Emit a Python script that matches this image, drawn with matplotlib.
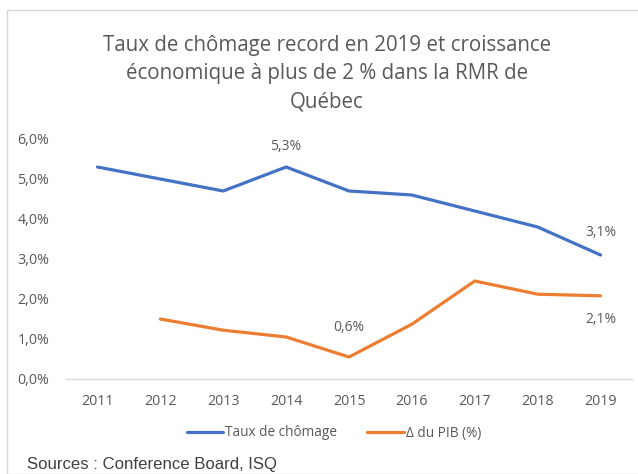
import matplotlib.pyplot as plt
from matplotlib.patches import Rectangle
from matplotlib.ticker import FuncFormatter

years = [2011, 2012, 2013, 2014, 2015, 2016, 2017, 2018, 2019]
chomage = [5.3, 5.0, 4.7, 5.3, 4.7, 4.6, 4.2, 3.8, 3.1]
pib_years = [2012, 2013, 2014, 2015, 2016, 2017, 2018, 2019]
pib = [1.5, 1.22, 1.05, 0.55, 1.37, 2.45, 2.12, 2.08]
y_ticks = [0, 1, 2, 3, 4, 5, 6]

title = "Taux de chômage record en 2019 et croissance\néconomique à plus de 2 % dans la RMR de\nQuébec"
source = "Sources : Conference Board, ISQ"

plt.rcParams['font.family'] = ['Open Sans', 'DejaVu Sans']
gray = '#595959'
blue = '#4472C4'
orange = '#ED7D31'

fig = plt.figure(figsize=(6.38, 4.74), dpi=100)
W, H = 638, 474

# chart frame
fig.patches.append(Rectangle((7 / W, 0), 1, 1 - 10 / H, transform=fig.transFigure,
                             fill=False, edgecolor='#d9d9d9', linewidth=1))

ax = fig.add_axes([66 / W, 1 - 379 / H, (632 - 66) / W, (379 - 139) / H])
ax.plot(years, chomage, color=blue, linewidth=2.3, solid_capstyle='round',
        label='Taux de chômage')
ax.plot(pib_years, pib, color=orange, linewidth=2.3, solid_capstyle='round',
        label='Δ du PIB (%)')

ax.set_xlim(2010.5, 2019.5)
ax.set_ylim(0, 6)
ax.set_yticks(y_ticks)
ax.yaxis.set_major_formatter(FuncFormatter(lambda v, p: f"{v:.1f}%".replace('.', ',')))
ax.set_xticks(years)
for s in ['top', 'right', 'left']:
    ax.spines[s].set_visible(False)
ax.spines['bottom'].set_color('#d9d9d9')
ax.spines['bottom'].set_linewidth(1)
ax.tick_params(length=0, labelsize=10.3, labelcolor=gray)
ax.tick_params(axis='x', pad=11)
ax.tick_params(axis='y', pad=12)

# data labels
def lab(x, y, txt, dy):
    ax.annotate(txt, (x, y), xytext=(0, dy), textcoords='offset points',
                ha='center', va='center', fontsize=10, color=gray)

lab(2014, chomage[3], "5,3%", 15)
lab(2019, chomage[-1], "3,1%", 16)
lab(2015, pib[3], "0,6%", 21.5)
lab(2019, pib[-1], "2,1%", -17)

fig.text(327 / W, 1 - 74 / H, title, ha='center', va='center', fontsize=14.8,
         color=gray, linespacing=1.46)

ax.legend(loc='center', bbox_to_anchor=((334 - 66) / 566, (379 - 433) / (379 - 139)),
          ncol=2, frameon=False, fontsize=9.8, labelcolor=gray,
          handlelength=2.7, handletextpad=0.15, columnspacing=2.2)

fig.text(27 / W, 1 - 464 / H, source, ha='left', va='center', fontsize=12.1,
         color='#404040', family=['Liberation Sans Narrow', 'Liberation Sans', 'DejaVu Sans'])

fig.savefig('out.png', dpi=100)
